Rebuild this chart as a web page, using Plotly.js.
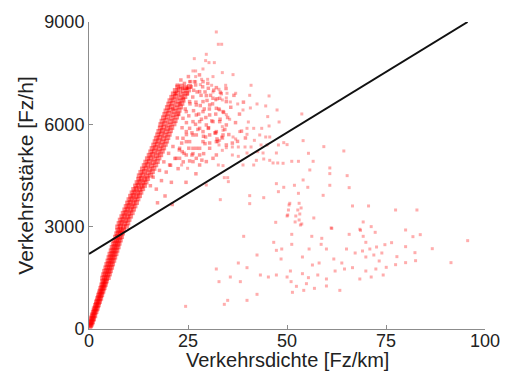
<!DOCTYPE html>
<html>
<head>
<meta charset="utf-8">
<script src="https://cdn.plot.ly/plotly-3.0.1.min.js"></script>
<style>
  html, body { margin: 0; padding: 0; background: #fff; }
  #chart { width: 505px; height: 372px; }
</style>
</head>
<body>
<div id="chart"></div>
<script>
// Free-flow branch: density [Fz/km] and flow [Fz/h] of the dense band
const freeFlowDensity = [
  0.1, 0.25, 0.4, 0.55,   0.35, 0.5, 0.7, 0.85,   0.55, 0.75, 0.95, 1.15,   0.85, 1.0, 1.25, 1.45,
  1.1, 1.3, 1.5, 1.75,    1.35, 1.6, 1.8, 2.05,   1.65, 1.9, 2.1, 2.35,     1.9, 2.15, 2.4, 2.65,
  2.2, 2.45, 2.7, 2.95,   2.45, 2.7, 2.95, 3.2,   2.75, 3.0, 3.25, 3.5,     3.0, 3.3, 3.55, 3.8,
  3.25, 3.55, 3.8, 4.1,   3.5, 3.8, 4.1, 4.35,    3.45, 3.95, 4.4, 4.85,    3.7, 4.2, 4.65, 5.15,
  3.95, 4.5, 4.95, 5.4,   4.25, 4.75, 5.2, 5.7,   4.5, 5.0, 5.5, 5.95,      4.8, 5.3, 5.75, 6.25,
  5.05, 5.55, 6.0, 6.5,   5.3, 5.85, 6.3, 6.8,    5.6, 6.1, 6.55, 7.05,     5.85, 6.4, 6.85, 7.35,
  6.15, 6.65, 7.15, 7.6,  6.4, 6.95, 7.4, 7.9,    6.7, 7.2, 7.7, 8.2,       7.0, 7.5, 7.95, 8.45,
  7.3, 7.8, 8.25, 8.75,   7.25, 7.95, 8.65, 9.45, 7.6, 8.3, 9.0, 9.8,       7.9, 8.6, 9.3, 10.1,
  8.3, 9.0, 9.7, 10.5,    8.65, 9.35, 10.05, 10.9, 9.05, 9.75, 10.45, 11.25, 9.4, 10.1, 10.8, 11.6,
  9.75, 10.45, 11.15, 12.0, 10.1, 10.85, 11.55, 12.35, 10.5, 11.2, 11.9, 12.75, 10.9, 11.6, 12.3, 13.1,
  11.3, 12.0, 12.75, 13.55, 11.75, 12.45, 13.2, 14.0, 12.15, 12.85, 13.6, 14.4, 12.55, 13.25, 14.0, 14.8,
  12.7, 13.6, 14.5, 15.6, 13.1, 14.0, 14.9, 16.0, 13.5, 14.4, 15.3, 16.4,   13.95, 14.85, 15.75, 16.85,
  14.35, 15.25, 16.15, 17.25, 14.75, 15.65, 16.55, 17.65, 15.2, 16.1, 17.0, 18.1, 15.6, 16.5, 17.4, 18.5,
  15.95, 16.85, 17.75, 18.85, 16.35, 17.25, 18.15, 19.25, 16.7, 17.6, 18.5, 19.6, 17.0, 17.9, 18.8, 19.9,
  17.35, 18.25, 19.15, 20.25, 17.65, 18.55, 19.45, 20.55, 18.0, 18.9, 19.8, 20.9, 18.15, 19.15, 20.25, 21.45,
  18.45, 19.45, 20.55, 21.75, 18.8, 19.8, 20.9, 22.1, 19.15, 20.15, 21.25, 22.45, 19.45, 20.45, 21.55, 22.75,
  19.8, 20.8, 21.9, 23.1, 20.15, 21.15, 22.25, 23.45, 20.45, 21.45, 22.55, 23.75, 20.9, 21.9, 23.0, 24.2,
  21.3, 22.3, 23.4, 24.6, 21.8, 22.8, 23.9, 25.1, 22.4, 23.3, 24.4, 25.4
];
const freeFlowVolume = [
  80, 120, 95, 140,       190, 230, 180, 215,     320, 280, 310, 295,       410, 370, 420, 390,
  480, 530, 490, 515,     590, 620, 580, 610,     690, 720, 680, 710,       790, 820, 780, 810,
  890, 920, 880, 905,     990, 1030, 980, 1010,   1090, 1120, 1080, 1110,   1190, 1220, 1180, 1215,
  1290, 1320, 1280, 1310, 1390, 1420, 1380, 1410, 1490, 1520, 1480, 1510,   1590, 1620, 1580, 1615,
  1690, 1720, 1680, 1710, 1790, 1820, 1780, 1810, 1890, 1920, 1880, 1910,   1990, 2020, 1980, 2015,
  2090, 2120, 2080, 2110, 2190, 2220, 2180, 2210, 2290, 2320, 2280, 2310,   2390, 2420, 2380, 2410,
  2490, 2520, 2480, 2515, 2590, 2620, 2580, 2610, 2690, 2720, 2680, 2710,   2790, 2820, 2780, 2815,
  2890, 2920, 2880, 2910, 2990, 3020, 2980, 3010, 3090, 3120, 3080, 3110,   3190, 3220, 3180, 3215,
  3290, 3320, 3280, 3310, 3390, 3420, 3380, 3410, 3490, 3520, 3480, 3515,   3590, 3620, 3580, 3610,
  3690, 3720, 3680, 3710, 3790, 3820, 3780, 3815, 3890, 3920, 3880, 3910,   3990, 4020, 3980, 4010,
  4090, 4120, 4080, 4115, 4190, 4220, 4180, 4210, 4290, 4320, 4280, 4310,   4390, 4420, 4380, 4415,
  4490, 4520, 4480, 4510, 4590, 4620, 4580, 4615, 4690, 4720, 4680, 4710,   4790, 4820, 4780, 4815,
  4890, 4920, 4880, 4910, 4990, 5020, 4980, 5015, 5090, 5120, 5080, 5110,   5190, 5220, 5180, 5215,
  5290, 5320, 5280, 5310, 5390, 5420, 5380, 5415, 5490, 5520, 5480, 5510,   5590, 5620, 5580, 5615,
  5690, 5720, 5680, 5710, 5790, 5820, 5780, 5815, 5890, 5920, 5880, 5910,   5990, 6020, 5980, 6015,
  6090, 6120, 6080, 6110, 6190, 6220, 6180, 6215, 6290, 6320, 6280, 6310,   6390, 6420, 6380, 6415,
  6490, 6520, 6480, 6510, 6590, 6620, 6580, 6615, 6690, 6720, 6680, 6710,   6790, 6820, 6780, 6815,
  6890, 6920, 6880, 6910, 6990, 7020, 6980, 7010, 7090, 7120, 7080, 7110
];

// Dense cloud around capacity, right of the free-flow band
const capacityDensity = [
  25.58, 26.93, 28.79, 32.16, 33.17, 30.13, 27.94, 26.43, 24.74, 23.73, 29.63, 31.31, 33.0, 34.68,
  28.79, 30.47, 27.10, 25.41, 32.16, 33.84, 28.79, 30.47, 27.10, 24.57, 23.73, 26.26, 27.94, 29.63,
  31.31, 33.0, 34.68, 25.41, 28.79, 32.16, 27.10, 30.47, 33.84, 23.73, 25.41, 28.79, 32.16, 34.68,
  22.89, 27.10, 30.47, 24.57, 27.94, 32.16, 22.04, 26.26, 29.63, 20.36,
  21.2, 21.8, 22.3, 22.6, 23.0, 23.2, 23.5, 23.8, 24.1, 24.3, 24.6, 24.9, 25.1, 25.2, 25.5, 25.8,
  26.0, 26.2, 26.4, 26.6, 26.9, 27.0, 27.3, 27.5, 27.7, 27.9, 28.1, 28.3, 28.4, 28.7, 28.9, 29.1,
  29.3, 29.5, 29.8, 30.0, 30.2, 30.4, 30.7, 31.0, 31.2, 31.5, 31.8, 32.0, 32.3, 32.5, 32.8, 33.1,
  33.4, 33.7, 34.0, 34.3, 34.6, 35.0, 35.3, 35.8, 36.2, 36.6, 37.0, 37.5, 38.0, 38.5, 39.0, 39.5,
  15.5, 16.2, 17.0, 17.8, 18.3, 18.9, 19.5, 20.1, 20.6, 21.2, 21.7, 22.3, 22.8, 23.4, 24.0, 24.6,
  25.2, 19.2, 20.8, 22.5, 23.8, 26.0, 17.3, 21.0, 24.5, 27.0, 28.5,
  24.57, 26.25, 27.94, 30.13, 29.45, 31.98, 32.32, 30.47, 29.29, 27.94, 26.25, 24.57, 23.55, 26.25,
  28.95, 22.88, 27.09, 31.31, 25.41, 27.94
];
const capacityVolume = [
  7252, 7154, 7252, 7076, 6939, 7057, 6959, 6998, 7057, 7057, 6842, 6764, 6764, 6666,
  6666, 6568, 6568, 6666, 6470, 6373, 6373, 6275, 6275, 6373, 6177, 6079, 6079, 5982,
  6079, 6079, 5982, 5884, 5786, 5786, 5689, 5689, 5689, 5591, 5493, 5493, 5493, 5395,
  5298, 5298, 5298, 5102, 5102, 5102, 5004, 4907, 4907, 4809,
  6450, 6900, 7150, 6300, 6600, 7300, 5900, 6750, 7200, 6450, 6050, 6900, 7400, 6250, 6600, 7100,
  5750, 6800, 6400, 7250, 6000, 6650, 6950, 5850, 6300, 7450, 6550, 6850, 6150, 7100, 5650, 6450,
  6950, 6200, 6700, 7200, 5900, 6450, 6850, 6100, 6600, 7000, 5750, 6300, 6750, 5500, 6450, 6150,
  6900, 5600, 6350, 5850, 7050, 6200, 5700, 6500, 5450, 6850, 6050, 5500, 6300, 5800, 6650, 5600,
  4200, 4450, 4100, 4650, 4350, 4900, 4600, 5150, 4800, 5350, 5000, 5600, 5250, 5450, 5150, 5700,
  5300, 3900, 4300, 4700, 4900, 5100, 3700, 3650, 4300, 4550, 4950,
  5786, 5688, 5883, 5883, 5629, 5746, 5571, 5453, 5434, 5297, 5297, 5492, 5199, 5141,
  5141, 5004, 5004, 5004, 4926, 4808
];

// Scattered congested observations
const congestedDensity = [
  32.15, 32.66, 33.50, 29.62, 26.59, 29.45, 30.30, 31.65, 26.25, 26.93, 28.78, 33.67, 36.37, 26.93,
  31.31, 28.44, 29.96, 25.41, 26.93, 34.51, 30.97, 28.11, 40.92, 24.73, 32.83, 31.31, 34.85, 37.04,
  40.58, 45.47, 34.68, 31.98, 33.67, 35.69, 37.55, 42.43, 44.62, 40.75, 38.89, 47.49, 32.99, 34.68,
  45.13, 35.52, 40.24, 48.00, 45.47, 33.67, 53.74,
  33.84, 38.05, 39.90, 41.59, 43.61, 33.50, 36.37, 37.04, 39.90, 41.76, 43.11, 44.62, 45.64, 32.99,
  32.83, 34.68, 36.20, 37.71, 39.40, 40.92, 43.44, 44.96, 47.83, 33.67, 36.20, 37.71, 39.90, 42.60,
  43.95, 47.32, 42.26, 44.12, 45.64, 46.48, 47.66, 32.66, 33.84, 38.89, 41.59, 34.17, 35.02, 35.19,
  29.62, 24.90, 23.39, 47.32, 47.83, 33.16, 40.58, 40.58, 44.12, 50.52, 50.18, 47.15,
  49.18, 50.02, 54.07, 59.30, 55.42, 64.35, 49.01, 51.20, 52.89, 56.60, 55.76, 60.81, 60.81, 65.19,
  54.07, 49.18, 51.88, 55.25, 60.81, 65.70, 52.89, 59.13, 50.70, 53.06, 53.56, 50.36, 52.72, 53.23,
  50.02, 52.22, 53.06, 52.05, 53.73, 56.77, 66.54, 70.59, 69.24, 61.15, 71.26, 68.40,
  77.42, 82.81, 79.95, 81.80, 83.65, 95.62, 76.41, 74.72, 79.95, 82.31, 86.69, 77.75, 82.47, 79.95,
  91.41, 77.42, 75.06,
  39.06, 46.65, 51.20, 53.39, 56.26, 58.78, 61.31, 65.70, 68.56, 72.27, 69.24, 69.91, 72.61, 70.92,
  69.07, 73.95, 71.93, 67.21, 65.02, 59.96, 58.62, 55.58, 51.20, 48.67, 47.32, 48.50, 53.90, 42.43,
  61.82, 73.28, 69.91, 72.44, 66.54, 64.52, 63.84, 62.15, 58.11, 56.42, 50.86, 53.90, 57.77, 59.96,
  55.41, 50.02, 47.32, 45.30, 43.28, 39.90, 37.71, 32.15, 35.69, 32.83, 38.22, 51.03, 52.38, 54.91,
  56.93, 59.96, 63.34, 68.39, 71.26, 74.29, 69.91, 51.37, 54.23, 42.43, 39.90, 35.02, 34.17, 24.40
];
const congestedVolume = [
  8708, 8347, 8347, 8053, 7926, 7868, 7809, 7809, 7565, 7565, 7623, 7516, 7457, 7399,
  7399, 7320, 7320, 7252, 7252, 7145, 7145, 7164, 7145, 7066, 7027, 6949, 6910, 6910,
  6851, 6832, 6773, 6715, 6715, 6656, 6597, 6597, 6539, 6480, 6421, 6421, 6421, 6284,
  6226, 6148, 6069, 6069, 5952, 5933, 6304,
  5825, 5786, 5883, 5883, 5883, 5629, 5629, 5571, 5707, 5531, 5688, 5629, 5629, 5531,
  5395, 5316, 5336, 5336, 5336, 5336, 5395, 5395, 5395, 5238, 5101, 5062, 5160, 5199,
  5160, 5160, 4945, 4984, 4945, 4867, 4867, 4808, 4789, 4808, 4808, 4437, 4437, 4320,
  4222, 4711, 4808, 4261, 4026, 3792, 3909, 3675, 3850, 3636, 3342, 3127,
  5463, 5405, 5522, 5346, 5151, 5219, 4858, 4916, 4916, 4916, 4662, 4721, 4555, 4496,
  4369, 4154, 4213, 4154, 4213, 4144, 3978, 3919, 3685, 3685, 3548, 3489, 3489, 3372,
  3313, 3313, 3196, 3138, 3079, 3255, 3607, 3607, 3138, 2962, 3001, 2923,
  3489, 3489, 2903, 2707, 2766, 2590, 2531, 2472, 2414, 2238, 2355, 2121, 2003, 1945,
  1945, 1886, 1808,
  2717, 2541, 2775, 3049, 2717, 2658, 2951, 2775, 2893, 2834, 2717, 2541, 2404, 2345,
  2287, 2228, 2169, 2228, 2345, 2345, 2482, 2345, 2482, 2345, 2306, 2052, 2111, 2169,
  2052, 1994, 2111, 1759, 1798, 1759, 1935, 1700, 1935, 1876, 1700, 1622, 1583, 1466,
  1505, 1524, 1583, 1524, 1583, 1798, 1935, 1759, 1524, 1388, 1388, 1388, 1251, 1329,
  1192, 1261, 1133, 1466, 1524, 1583, 1700, 1075, 1133, 1016, 840, 840, 723, 664
];

// Straight reference line
const lineDensity = [0, 95.6];
const lineVolume = [2200, 9000];

const xTicks = [0, 25, 50, 75, 100];
const yTicks = [0, 3000, 6000, 9000];

const xTitle = 'Verkehrsdichte [Fz/km]';
const yTitle = 'Verkehrsstärke [Fz/h]';

const font = 'Liberation Sans, Arial, Helvetica, sans-serif';

const traces = [
  {
    x: congestedDensity, y: congestedVolume, type: 'scatter', mode: 'markers',
    marker: { symbol: 'square', size: 3, color: 'rgba(255, 0, 0, 0.32)', line: { width: 0 } },
    hoverinfo: 'skip'
  },
  {
    x: capacityDensity, y: capacityVolume, type: 'scatter', mode: 'markers',
    marker: { symbol: 'square', size: 3.5, color: 'rgba(255, 0, 0, 0.4)', line: { width: 0 } },
    hoverinfo: 'skip'
  },
  {
    x: freeFlowDensity, y: freeFlowVolume, type: 'scatter', mode: 'markers',
    marker: { symbol: 'square', size: 5, color: 'rgba(255, 0, 0, 0.45)', line: { width: 0 } },
    hoverinfo: 'skip'
  },
  {
    x: lineDensity, y: lineVolume, type: 'scatter', mode: 'lines',
    line: { color: '#111', width: 2 },
    hoverinfo: 'skip'
  }
];

const axisCommon = {
  showgrid: false,
  zeroline: false,
  showline: true,
  linecolor: '#8c8c8c',
  linewidth: 1,
  ticks: 'inside',
  ticklen: 4,
  tickcolor: '#8c8c8c',
  tickfont: { family: font, size: 18, color: '#222' },
  fixedrange: true
};

const layout = {
  width: 505,
  height: 372,
  margin: { l: 89, r: 20, t: 22, b: 43 },
  paper_bgcolor: '#fff',
  plot_bgcolor: '#fff',
  showlegend: false,
  xaxis: Object.assign({}, axisCommon, {
    range: [0, 100],
    tickvals: xTicks,
    ticktext: xTicks.map(String),
    ticklabelstandoff: -5
  }),
  yaxis: Object.assign({}, axisCommon, {
    range: [0, 9000],
    tickvals: yTicks,
    ticktext: yTicks.map(String),
    title: { text: yTitle, font: { family: font, size: 21, color: '#222' }, standoff: 5 }
  }),
  // x-axis title placed just under the tick labels, at the bottom edge
  annotations: [{
    text: xTitle,
    xref: 'paper', yref: 'paper',
    x: 0.5, y: 0, xanchor: 'center', yanchor: 'bottom',
    yshift: -43,
    borderpad: 0,
    showarrow: false,
    font: { family: font, size: 20, color: '#222' }
  }]
};

Plotly.newPlot('chart', traces, layout, { staticPlot: true, displayModeBar: false });
</script>
</body>
</html>
